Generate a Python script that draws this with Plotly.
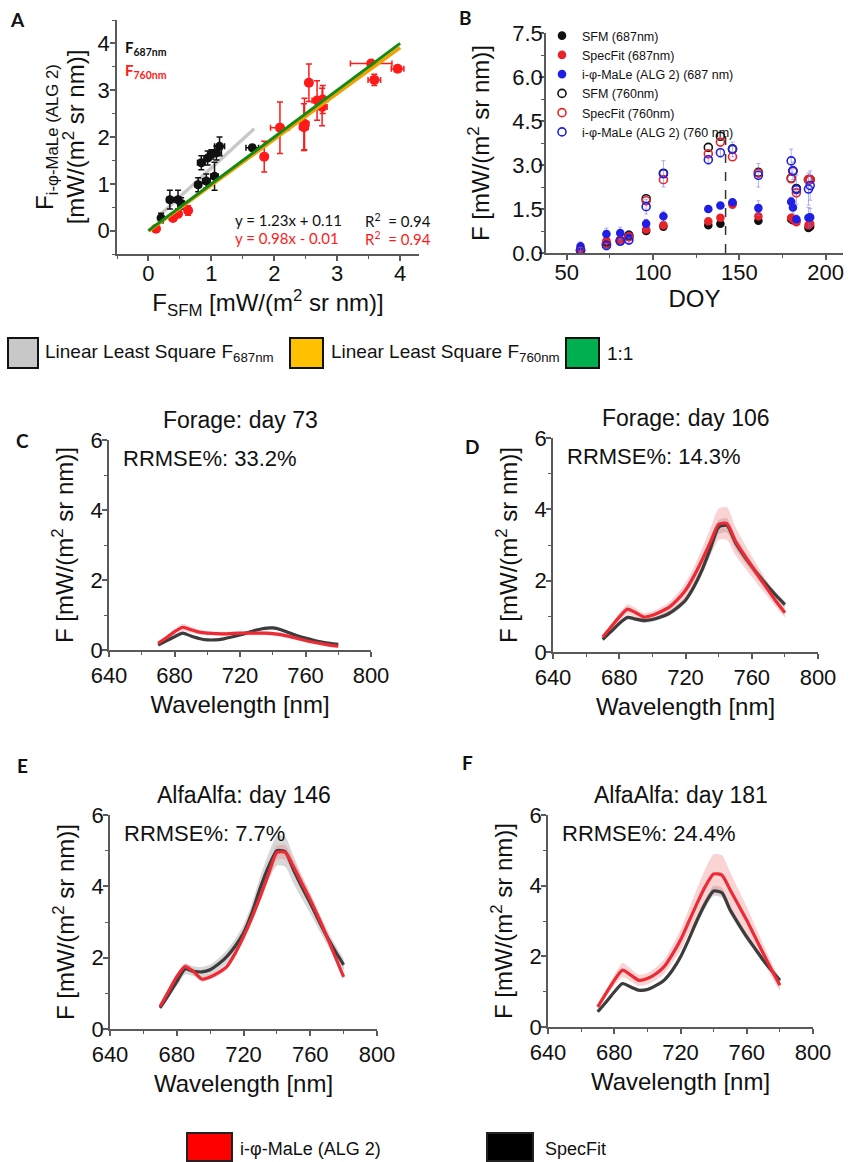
import plotly.graph_objects as go

# ---------------- Panel A: i-phi-MaLe vs SFM ----------------
sfm_687 = [0.20, 0.34, 0.47, 0.52, 0.79, 0.84, 0.92, 0.94, 1.00, 1.05, 1.08, 1.13, 1.65]
iphi_687 = [0.27, 0.66, 0.66, 0.58, 0.98, 1.45, 1.06, 1.55, 1.63, 1.16, 1.66, 1.80, 1.77]
sfm_687_err = [0.03, 0.05, 0.05, 0.05, 0.05, 0.06, 0.06, 0.05, 0.05, 0.06, 0.08, 0.08, 0.10]
iphi_687_err = [0.10, 0.20, 0.20, 0.12, 0.15, 0.15, 0.15, 0.15, 0.10, 0.30, 0.15, 0.20, 0.05]

sfm_760 = [0.12, 0.39, 0.47, 0.63, 1.84, 2.09, 2.47, 2.48, 2.55, 2.68, 2.76, 2.77, 3.54, 3.59, 3.96]
iphi_760 = [0.04, 0.27, 0.36, 0.43, 1.58, 2.20, 2.21, 2.28, 3.16, 2.78, 2.64, 2.80, 3.57, 3.22, 3.46]
sfm_760_err = [0.03, 0.05, 0.05, 0.05, 0.05, 0.15, 0.07, 0.07, 0.05, 0.08, 0.08, 0.08, 0.33, 0.10, 0.10]
iphi_760_err = [0.03, 0.05, 0.08, 0.10, 0.33, 0.55, 0.50, 0.55, 0.40, 0.42, 0.40, 0.30, 0.05, 0.12, 0.05]

fit_687 = dict(slope=1.23, intercept=0.11, x=[0.20, 1.68])
fit_760 = dict(slope=0.98, intercept=-0.01, x=[0.0, 4.0])
one_to_one_x = [0.0, 4.0]

# ---------------- Panel B: time series ----------------
doy = [58, 73, 81, 86, 96, 106, 132, 139, 146, 161, 180, 181, 183, 190, 191]
b_sfm_687 = [0.08, 0.35, 0.45, 0.62, 0.75, 0.90, 0.95, 1.00, 1.70, 1.10, 1.15, 1.12, 1.10, 0.85, 0.90]
b_specfit_687 = [0.10, 0.42, 0.45, 0.58, 0.80, 0.95, 1.08, 1.20, 1.65, 1.25, 1.20, 1.15, 1.05, 0.95, 1.00]
b_iphi_687 = [0.23, 0.65, 0.68, 0.62, 1.00, 1.25, 1.50, 1.62, 1.73, 1.53, 1.75, 1.55, 1.15, 1.20, 1.22]
b_iphi_687_err = [0.15, 0.20, 0.20, 0.12, 0.15, 0.18, 0.10, 0.08, 0.10, 0.25, 0.15, 0.20, 0.15, 0.35, 0.30]
b_sfm_760 = [0.10, 0.30, 0.42, 0.58, 1.85, 2.72, 3.60, 3.98, 3.55, 2.75, 2.55, 2.80, 2.20, 2.50, 2.50]
b_specfit_760 = [0.08, 0.32, 0.42, 0.55, 1.78, 2.50, 3.38, 3.78, 3.28, 2.72, 2.53, 2.78, 2.05, 2.50, 2.50]
b_iphi_760 = [0.10, 0.25, 0.40, 0.44, 1.58, 2.70, 3.18, 3.42, 3.53, 2.65, 3.14, 2.80, 2.16, 2.18, 2.30]
b_iphi_760_err = [0.10, 0.10, 0.10, 0.10, 0.25, 0.45, 0.15, 0.15, 0.25, 0.40, 0.40, 0.30, 0.50, 0.55, 0.50]
cut_doy = 142
cut_top = 4.1

# ---------------- Panels C-F: spectra ----------------
wavelength = [670, 675, 680, 685, 690, 695, 700, 705, 710, 715, 720, 725,
              730, 735, 740, 745, 750, 755, 760, 765, 770, 775, 780]

c_specfit = [0.14, 0.26, 0.38, 0.48, 0.40, 0.33, 0.29, 0.29, 0.32, 0.37, 0.43, 0.50,
             0.57, 0.62, 0.63, 0.58, 0.49, 0.41, 0.34, 0.28, 0.23, 0.19, 0.16]
c_specfit_sd = [0.02, 0.03, 0.03, 0.04, 0.03, 0.03, 0.03, 0.03, 0.03, 0.03, 0.03, 0.03,
                0.04, 0.04, 0.04, 0.04, 0.04, 0.03, 0.03, 0.03, 0.02, 0.02, 0.02]
c_iphi = [0.19, 0.35, 0.52, 0.65, 0.58, 0.51, 0.48, 0.47, 0.46, 0.47, 0.48, 0.48,
          0.48, 0.48, 0.47, 0.44, 0.39, 0.33, 0.27, 0.22, 0.18, 0.14, 0.11]
c_iphi_sd = [0.04, 0.06, 0.08, 0.10, 0.09, 0.07, 0.06, 0.06, 0.06, 0.06, 0.06, 0.06,
             0.06, 0.06, 0.06, 0.06, 0.05, 0.05, 0.04, 0.04, 0.03, 0.03, 0.03]

d_specfit = [0.35, 0.57, 0.80, 0.97, 0.92, 0.88, 0.91, 0.98, 1.08, 1.24, 1.45, 1.82,
             2.30, 2.90, 3.50, 3.55, 3.08, 2.72, 2.40, 2.10, 1.83, 1.57, 1.33]
d_specfit_sd = [0.03, 0.04, 0.05, 0.06, 0.06, 0.06, 0.06, 0.06, 0.07, 0.08, 0.09, 0.11,
                0.14, 0.17, 0.20, 0.20, 0.18, 0.16, 0.14, 0.12, 0.10, 0.09, 0.08]
d_iphi = [0.42, 0.70, 0.98, 1.20, 1.10, 0.98, 1.03, 1.13, 1.25, 1.46, 1.73, 2.12,
          2.58, 3.08, 3.58, 3.60, 3.12, 2.75, 2.40, 2.06, 1.73, 1.40, 1.10]
d_iphi_sd = [0.05, 0.08, 0.11, 0.14, 0.13, 0.11, 0.11, 0.12, 0.14, 0.17, 0.21, 0.26,
             0.32, 0.38, 0.44, 0.46, 0.40, 0.34, 0.29, 0.25, 0.20, 0.16, 0.12]

e_specfit = [0.59, 0.95, 1.33, 1.68, 1.62, 1.60, 1.66, 1.82, 2.03, 2.32, 2.69, 3.25,
             3.95, 4.55, 5.00, 4.97, 4.46, 3.98, 3.53, 3.05, 2.59, 2.18, 1.80]
e_specfit_sd = [0.05, 0.08, 0.12, 0.15, 0.14, 0.14, 0.15, 0.16, 0.18, 0.20, 0.23, 0.27,
                0.32, 0.37, 0.42, 0.42, 0.38, 0.33, 0.29, 0.25, 0.21, 0.18, 0.15]
e_iphi = [0.63, 1.05, 1.47, 1.75, 1.61, 1.40, 1.46, 1.58, 1.75, 2.12, 2.59, 3.12,
          3.71, 4.35, 4.95, 4.95, 4.55, 4.08, 3.62, 3.12, 2.59, 2.02, 1.46]
e_iphi_sd = [0.03, 0.05, 0.07, 0.09, 0.08, 0.07, 0.07, 0.08, 0.08, 0.09, 0.10, 0.12,
             0.14, 0.17, 0.20, 0.20, 0.18, 0.16, 0.14, 0.12, 0.10, 0.08, 0.06]

f_specfit = [0.43, 0.70, 0.99, 1.23, 1.13, 1.04, 1.06, 1.17, 1.32, 1.60, 1.98, 2.48,
             3.02, 3.50, 3.85, 3.80, 3.31, 2.92, 2.55, 2.22, 1.89, 1.60, 1.32]
f_specfit_sd = [0.02, 0.03, 0.04, 0.05, 0.05, 0.05, 0.05, 0.05, 0.06, 0.07, 0.08, 0.09,
                0.11, 0.13, 0.14, 0.14, 0.12, 0.11, 0.10, 0.09, 0.08, 0.07, 0.06]
f_iphi = [0.57, 0.95, 1.32, 1.61, 1.47, 1.32, 1.37, 1.50, 1.70, 2.05, 2.46, 2.98,
          3.50, 3.98, 4.33, 4.30, 3.88, 3.45, 3.02, 2.55, 2.08, 1.62, 1.18]
f_iphi_sd = [0.06, 0.10, 0.15, 0.20, 0.18, 0.16, 0.16, 0.18, 0.20, 0.24, 0.29, 0.35,
             0.42, 0.50, 0.56, 0.56, 0.50, 0.44, 0.38, 0.32, 0.26, 0.20, 0.14]

spectra_panels = [
    ("Forage: day 73", "33.2%", c_specfit, c_specfit_sd, c_iphi, c_iphi_sd),
    ("Forage: day 106", "14.3%", d_specfit, d_specfit_sd, d_iphi, d_iphi_sd),
    ("AlfaAlfa: day 146", "7.7%", e_specfit, e_specfit_sd, e_iphi, e_iphi_sd),
    ("AlfaAlfa: day 181", "24.4%", f_specfit, f_specfit_sd, f_iphi, f_iphi_sd),
]

# ---------------- figure geometry (pixels) ----------------
W, H = 851, 1162
FONT = "Liberation Sans, Arial, sans-serif"
LETTER_FONT = "Lato, Open Sans, sans-serif"
UNIT = "[mW/(m<sup>2</sup> sr nm)]"

BLACK = "#111111"
RED = "#ff1a1a"
BLUE = "#1f1fe6"
AXIS = "#5a5a5a"
SPEC_LINE = "#3c3c3c"
IPHI_LINE = "#ec2b34"
SPEC_BAND = "rgba(140,140,140,0.35)"
IPHI_BAND = "rgba(240,110,115,0.30)"


def fx(p):
    return p / W


def fy(p):
    return 1 - p / H


def minor(dtick):
    return dict(ticks="outside", ticklen=3, tickwidth=1, tickcolor=AXIS, dtick=dtick)


def axis_style(**kw):
    base = dict(
        showline=True, linecolor=AXIS, linewidth=1.5,
        ticks="outside", ticklen=5, tickwidth=1.5, tickcolor=AXIS,
        showgrid=False, zeroline=False, mirror=False,
        tickfont=dict(family=FONT, size=22, color=BLACK),
        title_font=dict(family=FONT, size=24, color=BLACK),
    )
    base.update(kw)
    return base


fig = go.Figure()

# ---- Panel A ----
fig.add_trace(go.Scatter(
    x=fit_687["x"], y=[fit_687["slope"] * v + fit_687["intercept"] for v in fit_687["x"]],
    mode="lines", line=dict(color="#c8c8c8", width=3.5), showlegend=False,
    xaxis="x", yaxis="y", hoverinfo="skip"))

fig.add_trace(go.Scatter(
    x=sfm_687, y=iphi_687, mode="markers",
    marker=dict(color=BLACK, size=9),
    error_x=dict(type="data", array=sfm_687_err, color=BLACK, thickness=1.5, width=3),
    error_y=dict(type="data", array=iphi_687_err, color=BLACK, thickness=1.5, width=3),
    showlegend=False, xaxis="x", yaxis="y", name="F687nm"))

fig.add_trace(go.Scatter(
    x=sfm_760, y=iphi_760, mode="markers",
    marker=dict(color=RED, size=10),
    error_x=dict(type="data", array=sfm_760_err, color=RED, thickness=1.5, width=3),
    error_y=dict(type="data", array=iphi_760_err, color=RED, thickness=1.5, width=3),
    showlegend=False, xaxis="x", yaxis="y", name="F760nm"))

fig.add_trace(go.Scatter(
    x=fit_760["x"], y=[fit_760["slope"] * v + fit_760["intercept"] for v in fit_760["x"]],
    mode="lines", line=dict(color="#f0a000", width=3.5), showlegend=False,
    xaxis="x", yaxis="y", hoverinfo="skip"))
fig.add_trace(go.Scatter(
    x=one_to_one_x, y=one_to_one_x, mode="lines",
    line=dict(color="#138a13", width=3), showlegend=False,
    xaxis="x", yaxis="y", hoverinfo="skip"))

# ---- Panel B ----
b_series = [
    ("SFM (687nm)", b_sfm_687, None, "circle", BLACK),
    ("SpecFit (687nm)", b_specfit_687, None, "circle", "#e8232a"),
    ("i-φ-MaLe (ALG 2) (687 nm)", b_iphi_687, b_iphi_687_err, "circle", BLUE),
    ("SFM (760nm)", b_sfm_760, None, "circle-open", BLACK),
    ("SpecFit (760nm)", b_specfit_760, None, "circle-open", "#e8232a"),
    ("i-φ-MaLe (ALG 2) (760 nm)", b_iphi_760, b_iphi_760_err, "circle-open", BLUE),
]
for name, vals, err, sym, color in b_series:
    kw = {}
    if err is not None:
        kw["error_y"] = dict(type="data", array=err, color="rgba(110,110,250,0.55)",
                             thickness=1, width=2)
    fig.add_trace(go.Scatter(
        x=doy, y=vals, mode="markers", name=name,
        marker=dict(symbol=sym, color=color, size=7 if sym == "circle" else 8,
                    line=dict(width=1.6, color=color)),
        xaxis="x2", yaxis="y2", **kw))

# ---- Panels C-F ----
for i, (title, rrmse, spec, spec_sd, iphi, iphi_sd) in enumerate(spectra_panels):
    xa, ya = f"x{i + 3}", f"y{i + 3}"
    for mean, sd, band in ((spec, spec_sd, SPEC_BAND), (iphi, iphi_sd, IPHI_BAND)):
        upper = [m + s for m, s in zip(mean, sd)]
        lower = [m - s for m, s in zip(mean, sd)]
        fig.add_trace(go.Scatter(
            x=wavelength + wavelength[::-1], y=upper + lower[::-1],
            fill="toself", fillcolor=band, line=dict(width=0, shape="spline", smoothing=0.6),
            mode="lines", showlegend=False, hoverinfo="skip", xaxis=xa, yaxis=ya))
    fig.add_trace(go.Scatter(
        x=wavelength, y=spec, mode="lines", name="SpecFit",
        line=dict(color=SPEC_LINE, width=3.2, shape="spline", smoothing=0.6),
        showlegend=False, xaxis=xa, yaxis=ya))
    fig.add_trace(go.Scatter(
        x=wavelength, y=iphi, mode="lines", name="i-φ-MaLe (ALG 2)",
        line=dict(color=IPHI_LINE, width=3.2, shape="spline", smoothing=0.6),
        showlegend=False, xaxis=xa, yaxis=ya))

# ---------------- layout ----------------
spec_boxes = [  # (x0, x1, y_top, y_bottom) in pixels for C, D, E, F
    (109, 371, 440, 650),
    (553, 818, 438, 652),
    (110, 377, 815, 1029),
    (548, 813, 815, 1027),
]

layout = dict(
    width=W, height=H, margin=dict(l=0, r=0, t=0, b=0, autoexpand=False),
    paper_bgcolor="white", plot_bgcolor="white",
    font=dict(family=FONT, color=BLACK),
    xaxis=axis_style(domain=[fx(117), fx(419)], range=[-0.5, 4.3], dtick=1, tick0=0,
                     minor=minor(0.5), ticklabelstandoff=-6,
                     title=dict(text="F<sub>SFM</sub> " + UNIT, standoff=0), anchor="y"),
    yaxis=axis_style(domain=[fy(254), fy(20)], range=[-0.5, 4.5], dtick=1, tick0=0,
                     minor=minor(0.5), ticklabelstandoff=-4,
                     title=dict(text="F<sub>i-φ-MaLe (ALG 2)</sub><br>" + UNIT, standoff=6), anchor="x"),
    xaxis2=axis_style(domain=[fx(546), fx(843)], range=[38, 210], dtick=50, tick0=0,
                      minor=minor(25), ticklabelstandoff=-6,
                      title=dict(text="DOY", standoff=4), anchor="y2"),
    yaxis2=axis_style(domain=[fy(253), fy(33)], range=[0, 7.5], dtick=1.5, tick0=0,
                      tickformat=".1f", minor=minor(0.75), ticklabelstandoff=-8,
                      title=dict(text="F " + UNIT, standoff=16), anchor="x2"),
    legend=dict(x=fx(542), y=fy(21), xanchor="left", yanchor="top",
                font=dict(family=FONT, size=12.5, color=BLACK),
                bgcolor="rgba(0,0,0,0)", tracegroupgap=0, itemwidth=30),
    shapes=[],
    annotations=[],
)

for i, (x0, x1, yt, yb) in enumerate(spec_boxes):
    n = i + 3
    layout[f"xaxis{n}"] = axis_style(
        domain=[fx(x0), fx(x1)], range=[640, 800], dtick=40, tick0=640, minor=minor(20),
        title=dict(text="Wavelength [nm]", standoff=9), anchor=f"y{n}")
    layout[f"yaxis{n}"] = axis_style(
        domain=[fy(yb), fy(yt)], range=[0, 6], dtick=2, tick0=0, minor=minor(1),
        ticklabelstandoff=-5,
        title=dict(text="F " + UNIT, standoff=10), anchor=f"x{n}")

ann = layout["annotations"]
shp = layout["shapes"]

# panel letters
for letter, px, py in (("A", 17, 20), ("B", 465, 18), ("C", 22, 440),
                       ("D", 472, 446), ("E", 22, 765), ("F", 467, 763)):
    ann.append(dict(text=f"<b>{letter}</b>", x=fx(px), y=fy(py), xref="paper", yref="paper",
                    xanchor="center", yanchor="middle", showarrow=False,
                    font=dict(family=LETTER_FONT, size=19, color=BLACK)))

# panel A inset texts
ann.append(dict(text="<b>F<sub>687nm</sub></b>", x=fx(123), y=fy(48), xref="paper", yref="paper",
                xanchor="left", yanchor="middle", showarrow=False,
                font=dict(family=LETTER_FONT, size=15, color=BLACK)))
ann.append(dict(text="<b>F<sub>760nm</sub></b>", x=fx(123), y=fy(71), xref="paper", yref="paper",
                xanchor="left", yanchor="middle", showarrow=False,
                font=dict(family=LETTER_FONT, size=15, color=RED)))
for txt, px, py, col in (("y = 1.23x + 0.11", 233, 220, BLACK), ("R<sup>2</sup>  = 0.94", 363, 220, BLACK),
                         ("y = 0.98x - 0.01", 233, 238, RED), ("R<sup>2</sup>  = 0.94", 363, 238, RED)):
    ann.append(dict(text=txt, x=fx(px), y=fy(py), xref="paper", yref="paper",
                    xanchor="left", yanchor="middle", showarrow=False,
                    font=dict(family=LETTER_FONT, size=15, color=col)))

# vertical dashed marker in panel B
shp.append(dict(type="line", xref="x2", yref="y2", x0=cut_doy, x1=cut_doy, y0=0, y1=cut_top,
                line=dict(color="#333333", width=1.5, dash="dash")))

# panel titles and RRMSE labels for C-F
for (title, rrmse, *_), (x0, x1, yt, yb) in zip(spectra_panels, spec_boxes):
    ann.append(dict(text=title, x=fx((x0 + x1) / 2), y=fy(yt - 20), xref="paper", yref="paper",
                    xanchor="center", yanchor="middle", showarrow=False,
                    font=dict(family=FONT, size=23, color=BLACK)))
    ann.append(dict(text=f"RRMSE%: {rrmse}", x=fx(x0 + 12), y=fy(yt + 18), xref="paper", yref="paper",
                    xanchor="left", yanchor="middle", showarrow=False,
                    font=dict(family=FONT, size=22, color=BLACK)))

# key for the fit lines of panel A
for (bx0, bx1, color, label, tx) in (
        (8, 38, "#c8c8c8", "Linear Least Square F<sub>687nm</sub>", 43),
        (290, 323, "#ffc000", "Linear Least Square F<sub>760nm</sub>", 329),
        (566, 599, "#00b050", "1:1", 605)):
    shp.append(dict(type="rect", xref="paper", yref="paper", x0=fx(bx0), x1=fx(bx1),
                    y0=fy(368), y1=fy(338), fillcolor=color, line=dict(color="#111111", width=2)))
    ann.append(dict(text=label, x=fx(tx), y=fy(353), xref="paper", yref="paper",
                    xanchor="left", yanchor="middle", showarrow=False,
                    font=dict(family=FONT, size=19, color=BLACK)))

# key for the spectra panels
for (bx0, bx1, color, label, tx) in (
        (187, 232, "#ff0000", "i-φ-MaLe (ALG 2)", 238),
        (487, 533, "#000000", "SpecFit", 543)):
    shp.append(dict(type="rect", xref="paper", yref="paper", x0=fx(bx0), x1=fx(bx1),
                    y0=fy(1161), y1=fy(1133), fillcolor=color, line=dict(color="#222222", width=2)))
    ann.append(dict(text=label, x=fx(tx), y=fy(1149), xref="paper", yref="paper",
                    xanchor="left", yanchor="middle", showarrow=False,
                    font=dict(family=FONT, size=18, color=BLACK)))

fig.update_layout(**layout)
fig.write_html("out.html")
